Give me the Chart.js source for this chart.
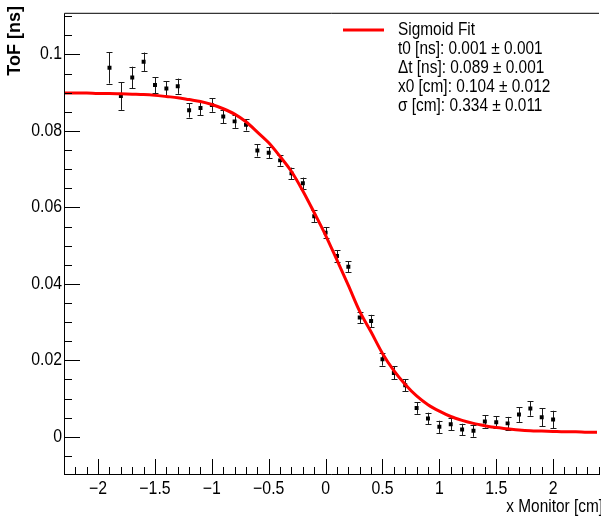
<!DOCTYPE html>
<html><head><meta charset="utf-8">
<script src="https://cdn.jsdelivr.net/npm/chart.js@4.4.1/dist/chart.umd.min.js"></script>
<style>html,body{margin:0;padding:0;background:#fff;overflow:hidden}#wrap{width:601px;height:517px;position:relative}</style>
</head><body><div id="wrap"><canvas id="c" width="601" height="517"></canvas></div>
<script>
// ---- data ----
const xPositions = [-1.9,-1.8,-1.7,-1.6,-1.5,-1.4,-1.3,-1.2,-1.1,-1.0,-0.9,-0.8,-0.7,-0.6,-0.5,-0.4,-0.3,-0.2,-0.1,0.0,
                    0.1,0.2,0.3,0.4,0.5,0.6,0.7,0.8,0.9,1.0,1.1,1.2,1.3,1.4,1.5,1.6,1.7,1.8,1.9,2.0];
const tofValues = [0.0965,0.0891,0.0940,0.0981,0.0920,0.0911,0.0917,0.0854,0.0860,0.0868,0.0838,0.0825,0.0816,0.0749,0.0743,0.0723,0.0689,0.0663,0.0577,0.0534,
                   0.0473,0.0445,0.0312,0.0303,0.0203,0.0167,0.0135,0.0075,0.0048,0.0026,0.0033,0.0019,0.0016,0.0040,0.0038,0.0035,0.0058,0.0074,0.0051,0.0045];
const tofErrors = [0.0041,0.0036,0.0028,0.0024,0.0021,0.0019,0.0020,0.0019,0.0019,0.0018,0.0018,0.0017,0.0015,0.0016,0.0014,0.0014,0.0015,0.0015,0.0015,0.0014,
                   0.0015,0.0014,0.0015,0.0016,0.0017,0.0017,0.0016,0.0015,0.0015,0.0016,0.0016,0.0015,0.0016,0.0016,0.0016,0.0017,0.0019,0.0019,0.0023,0.0023];
const fitX = [-2.3,-2.2,-2.1,-2.0,-1.9,-1.8,-1.7,-1.6,-1.5,-1.4,-1.3,-1.2,-1.1,-1.0,-0.9,-0.8,-0.7,-0.6,-0.5,-0.4,-0.3,-0.2,-0.1,0.0,
              0.1,0.2,0.3,0.4,0.5,0.6,0.7,0.8,0.9,1.0,1.1,1.2,1.3,1.4,1.5,1.6,1.7,1.8,1.9,2.0,2.1,2.2,2.3,2.4];
const fitY = [0.0899,0.0899,0.0899,0.0898,0.0898,0.0897,0.0896,0.0895,0.0893,0.0890,0.0887,0.0882,0.0877,0.0869,0.0858,0.0844,0.0824,0.0797,0.0769,0.0733,0.0694,0.0643,0.0586,0.0527,
              0.0462,0.0396,0.0328,0.0274,0.0218,0.0173,0.0137,0.0107,0.0084,0.0067,0.0053,0.0043,0.0035,0.0029,0.0024,0.0021,0.0018,0.0016,0.0015,0.0014,0.0013,0.0013,0.0012,0.0012];
const xTickValues = [-2,-1.5,-1,-0.5,0,0.5,1,1.5,2];
const yTickValues = [0,0.02,0.04,0.06,0.08,0.1];
const fitName = 'Sigmoid Fit';
const fitParams = ['t0 [ns]: 0.001 \u00b1 0.001', '\u0394t [ns]: 0.089 \u00b1 0.001', 'x0 [cm]: 0.104 \u00b1 0.012', '\u03c3 [cm]: 0.334 \u00b1 0.011'];
const xTitle = 'x Monitor [cm]';
const yTitle = 'ToF [ns]';

// ---- styling ----
const FONT = '"Liberation Sans", Arial, Helvetica, sans-serif';
const SQUEEZE = 0.88; // reference text is a horizontally narrow Helvetica
const fmt = v => { const s = String(Math.round(Math.abs(v)*1000)/1000); return v < 0 ? '\u2212' + s : s; };

const canvas = document.getElementById('c');
const ctx0 = canvas.getContext('2d');
const plainFill = CanvasRenderingContext2D.prototype.fillText;
ctx0.fillText = function (t, x, y, mw) {
  this.save(); this.translate(x, y); this.scale(SQUEEZE, 1);
  plainFill.call(this, t, 0, 0); this.restore();
};

const rootPlugin = {
  id: 'rootStyle',
  beforeDatasetsDraw(chart) {
    const {ctx, scales:{x, y}} = chart;
    ctx.save();
    ctx.strokeStyle = '#1a1a1a'; ctx.lineWidth = 1;
    for (let i = 0; i < xPositions.length; i++) {
      const px = Math.round(x.getPixelForValue(xPositions[i])) + 0.5;
      const y1 = y.getPixelForValue(tofValues[i] - tofErrors[i]);
      const y2 = y.getPixelForValue(tofValues[i] + tofErrors[i]);
      ctx.beginPath();
      ctx.moveTo(px, y1); ctx.lineTo(px, y2);
      ctx.moveTo(px - 3, Math.round(y1) + 0.5); ctx.lineTo(px + 3, Math.round(y1) + 0.5);
      ctx.moveTo(px - 3, Math.round(y2) + 0.5); ctx.lineTo(px + 3, Math.round(y2) + 0.5);
      ctx.stroke();
    }
    ctx.restore();
  },
  afterDraw(chart) {
    const {ctx, chartArea: a, scales:{x, y}} = chart;
    ctx.save();
    // frame
    ctx.strokeStyle = '#000'; ctx.lineWidth = 1;
    ctx.beginPath();
    ctx.moveTo(a.left + 0.5, a.top + 0.5); ctx.lineTo(a.left + 0.5, a.bottom - 0.5);
    ctx.lineTo(a.right + 2, a.bottom - 0.5);
    ctx.moveTo(a.left + 0.5, a.top + 0.5); ctx.lineTo(a.right + 2, a.top + 0.5);
    // x ticks (major 0.5, minor 0.1)
    for (let k = -23; k <= 24; k++) {
      const v = k / 10;
      const px = Math.round(x.getPixelForValue(v)) + 0.5;
      const len = (k % 5 === 0) ? 16 : 8;
      ctx.moveTo(px, a.bottom); ctx.lineTo(px, a.bottom - len);
    }
    // y ticks (major 0.02, minor 0.005)
    for (let k = -2; k <= 22; k++) {
      const v = k * 0.005;
      const py = Math.round(y.getPixelForValue(v)) + 0.5;
      if (py < a.top || py > a.bottom) continue;
      const len = (k % 4 === 0) ? 16 : 8;
      ctx.moveTo(a.left, py); ctx.lineTo(a.left + len, py);
    }
    ctx.stroke();

    // axis titles
    ctx.fillStyle = '#000';
    ctx.font = '17.5px ' + FONT;
    ctx.textAlign = 'right'; ctx.textBaseline = 'middle';
    ctx.fillText(xTitle, 603, 507);
    ctx.save();
    ctx.translate(15, 6);
    ctx.rotate(-Math.PI / 2);
    ctx.font = 'bold 18px ' + FONT;
    ctx.textAlign = 'right'; ctx.textBaseline = 'middle';
    plainFill.call(ctx, yTitle, 0, 0);
    ctx.restore();

    // legend
    ctx.strokeStyle = '#ff0000'; ctx.lineWidth = 3;
    ctx.beginPath(); ctx.moveTo(343, 30); ctx.lineTo(384, 30); ctx.stroke();
    ctx.font = '17.5px ' + FONT;
    ctx.textAlign = 'left'; ctx.textBaseline = 'middle';
    ctx.fillText(fitName, 398, 30);
    fitParams.forEach((t, i) => ctx.fillText(t, 398, 49.5 + i * 19));
    ctx.restore();
  }
};

new Chart(canvas, {
  type: 'scatter',
  data: {
    datasets: [
      {
        label: fitName,
        type: 'line',
        data: fitX.map((v, i) => ({x: v, y: fitY[i]})),
        borderColor: '#ff0000', borderWidth: 3, pointRadius: 0,
        cubicInterpolationMode: 'monotone', fill: false, order: 0
      },
      {
        label: 'data',
        data: xPositions.map((v, i) => ({x: v, y: tofValues[i]})),
        pointStyle: 'rect', pointRadius: 2.8, borderWidth: 0,
        backgroundColor: '#000', borderColor: '#000', order: 1
      }
    ]
  },
  options: {
    responsive: false, animation: false, devicePixelRatio: 1,
    layout: {padding: {top: 8, left: 0, right: 0, bottom: 0}},
    plugins: {legend: {display: false}, tooltip: {enabled: false}},
    scales: {
      x: {
        type: 'linear', min: -2.3, max: 2.386,
        grid: {display: false, drawTicks: false}, border: {display: false},
        afterBuildTicks: s => { s.ticks = xTickValues.map(v => ({value: v})); },
        afterFit: s => { s.height = 42; },
        ticks: {font: {family: FONT, size: 18}, color: '#000', padding: 3, maxRotation: 0, autoSkip: false, callback: v => fmt(v)}
      },
      y: {
        type: 'linear', min: -0.01, max: 0.1109,
        grid: {display: false, drawTicks: false}, border: {display: false},
        afterBuildTicks: s => { s.ticks = yTickValues.map(v => ({value: v})); },
        afterFit: s => { s.width = 64; },
        ticks: {font: {family: FONT, size: 18}, color: '#000', padding: 2, autoSkip: false, callback: v => fmt(v)}
      }
    }
  },
  plugins: [rootPlugin]
});
</script></body></html>
